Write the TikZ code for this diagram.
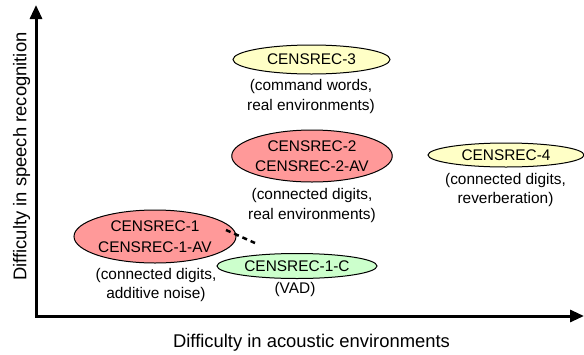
\documentclass[tikz,border=0pt]{standalone}
\usepackage{fontspec}
\setmainfont{Liberation Sans}
\usetikzlibrary{shapes.geometric,arrows.meta}
\definecolor{ylw}{HTML}{FFFFC6}
\definecolor{rd}{HTML}{FF9999}
\definecolor{grn}{HTML}{CCFFCC}
\tikzset{
  ell/.style={ellipse, draw=black, line width=1pt, inner sep=0pt, align=center,
    font=\fontsize{15.4}{20.5}\selectfont},
  captxt/.style={inner sep=0pt, align=center, font=\fontsize{15.4}{19.5}\selectfont},
  axislabel/.style={inner sep=0pt, font=\fontsize{18.4}{22}\selectfont},
  axis/.style={line width=3pt, line join=miter,
    {Triangle[length=14pt,width=12pt]}-{Triangle[length=14pt,width=12pt]}},
  link/.style={line width=2.5pt, dash pattern=on 5pt off 4pt}
}
\begin{document}
\begin{tikzpicture}[x=1pt,y=-1pt]
\useasboundingbox (0,0) rectangle (584,354);
% axes
\coordinate (yt) at (36,5);
\coordinate (O) at (36,316);
\coordinate (xt) at (584,316);
\draw[axis] (yt) -- (O) -- (xt);
\node[axislabel] (xl) at (311.5,343) {Difficulty in acoustic environments};
\node[axislabel, rotate=90] (yl) at (21.5,156.5) {Difficulty in speech recognition};
% ellipses
\node[ell, fill=ylw, minimum width=157pt, minimum height=29pt] (c3) at (311.5,59.5) {CENSREC-3};
\node[captxt] (c3t) at (311,96.5) {(command words,\\real environments)};
\node[ell, fill=rd, minimum width=158pt, minimum height=52pt] (c2) at (312,156) {CENSREC-2\\CENSREC-2-AV};
\node[captxt] (c2t) at (312,205.5) {(connected digits,\\real environments)};
\node[ell, fill=ylw, minimum width=156pt, minimum height=24pt] (c4) at (506,155) {CENSREC-4};
\node[captxt] (c4t) at (505.5,190) {(connected digits,\\reverberation)};
\node[ell, fill=rd, minimum width=162pt, minimum height=53pt] (c1) at (155,236.5) {CENSREC-1\\CENSREC-1-AV};
\node[captxt] (c1t) at (156,285) {(connected digits,\\additive noise)};
\node[ell, fill=grn, minimum width=160pt, minimum height=25pt] (c1c) at (297,266) {CENSREC-1-C};
\node[captxt] (c1ct) at (295,290) {(VAD)};
% dashed link
\coordinate (d1) at (226,230);
\coordinate (d2) at (255,243);
\draw[link] (d1) -- (d2);
\end{tikzpicture}
\end{document}
